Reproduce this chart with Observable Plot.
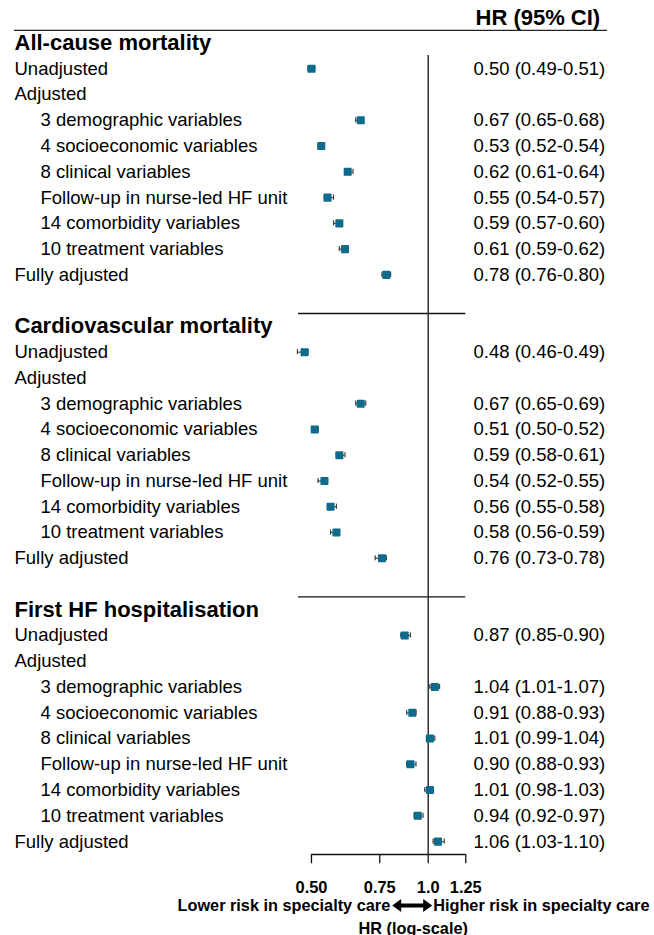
<!DOCTYPE html>
<html><head><meta charset="utf-8">
<script src="https://cdn.jsdelivr.net/npm/d3@7"></script>
<script src="https://cdn.jsdelivr.net/npm/@observablehq/plot@0.6"></script>
<style>body{margin:0;background:#fff} svg{display:block}</style>
</head><body><div id="chart"></div>
<script>
const sections = ["All-cause mortality", "Cardiovascular mortality", "First HF hospitalisation"];
const rowLabels = ["Unadjusted", "Adjusted", "3 demographic variables", "4 socioeconomic variables",
  "8 clinical variables", "Follow-up in nurse-led HF unit", "14 comorbidity variables",
  "10 treatment variables", "Fully adjusted"];
const indented = [false, false, true, true, true, true, true, true, false];

const allCauseHR = [0.50, 0.67, 0.53, 0.62, 0.55, 0.59, 0.61, 0.78];
const allCauseLo = [0.49, 0.65, 0.52, 0.61, 0.54, 0.57, 0.59, 0.76];
const allCauseHi = [0.51, 0.68, 0.54, 0.64, 0.57, 0.60, 0.62, 0.80];
const cvHR = [0.48, 0.67, 0.51, 0.59, 0.54, 0.56, 0.58, 0.76];
const cvLo = [0.46, 0.65, 0.50, 0.58, 0.52, 0.55, 0.56, 0.73];
const cvHi = [0.49, 0.69, 0.52, 0.61, 0.55, 0.58, 0.59, 0.78];
const hfHR = [0.87, 1.04, 0.91, 1.01, 0.90, 1.01, 0.94, 1.06];
const hfLo = [0.85, 1.01, 0.88, 0.99, 0.88, 0.98, 0.92, 1.03];
const hfHi = [0.90, 1.07, 0.93, 1.04, 0.93, 1.03, 0.97, 1.10];

const tickValues = [0.5, 0.75, 1.0, 1.25];
const tickLabels = ["0.50", "0.75", "1.0", "1.25"];
const headerText = "HR (95% CI)";
const lowerText = "Lower risk in specialty care";
const higherText = "Higher risk in specialty care";
const axisTitle = "HR (log-scale)";

// ---- build tables ----
const series = [
  {hr: allCauseHR, lo: allCauseLo, hi: allCauseHi},
  {hr: cvHR, lo: cvLo, hi: cvHi},
  {hr: hfHR, lo: hfLo, hi: hfHi}
];
const rowsPerSection = rowLabels.length + 2;
const titleRows = sections.map((t, s) => ({label: t, row: s * rowsPerSection}));
const labelRows = [];
const estimates = [];
sections.forEach((t, s) => {
  let k = 0;
  rowLabels.forEach((lab, j) => {
    const row = s * rowsPerSection + 1 + j;
    labelRows.push({label: lab, row, indent: indented[j]});
    if (lab !== "Adjusted") {
      estimates.push({row, hr: series[s].hr[k], lo: series[s].lo[k], hi: series[s].hi[k]});
      k++;
    }
  });
});
const separators = sections.slice(1).map((t, s) => (s + 1) * rowsPerSection - 0.5);
const lastRow = sections.length * rowsPerSection - 2;
const axisRow = lastRow + 0.5;

const fmt = d3.format(".2f");
const font = "Liberation Sans, Arial, Helvetica, sans-serif";
const ink = "#000";
const blue = "#0f6b8c";

const doubleArrow = {
  draw(ctx) {
    const w = 20, h = 6.5, t = 2, hw = 9;
    ctx.moveTo(-w, 0); ctx.lineTo(-w + hw, -h); ctx.lineTo(-w + hw, -t);
    ctx.lineTo(w - hw, -t); ctx.lineTo(w - hw, -h); ctx.lineTo(w, 0);
    ctx.lineTo(w - hw, h); ctx.lineTo(w - hw, t); ctx.lineTo(-w + hw, t);
    ctx.lineTo(-w + hw, h); ctx.closePath();
  }
};

const chart = Plot.plot({
  width: 654, height: 935, margin: 0,
  style: {fontFamily: font, background: "#fff", overflow: "visible"},
  x: {type: "log", domain: [0.07889, 3.8337], range: [0, 654], axis: null},
  y: {type: "linear", domain: [-1.6514, 34.645], range: [0, 935], axis: null},
  marks: [
    // header
    Plot.ruleY([-0.49], {x1: 0.0857, x2: 2.90, stroke: "#222", strokeWidth: 1.2}),
    Plot.text([headerText], {y: () => -0.96, text: d => d, frameAnchor: "left", textAnchor: "start", dx: 475, fontSize: 22, fontWeight: "bold", fill: ink}),
    // reference line and separators
    Plot.ruleX([1], {y1: 0.48, y2: axisRow, stroke: "#111", strokeWidth: 1.3}),
    Plot.ruleY(separators, {x1: 0.463, x2: 1.25, stroke: "#111", strokeWidth: 1.3}),
    // CIs
    Plot.ruleY(estimates, {y: "row", x1: "lo", x2: "hi", stroke: "#444", strokeWidth: 1.2}),
    Plot.ruleX(estimates, {x: "lo", y1: d => d.row - 0.1, y2: d => d.row + 0.1, stroke: "#444", strokeWidth: 1.2}),
    Plot.ruleX(estimates, {x: "hi", y1: d => d.row - 0.1, y2: d => d.row + 0.1, stroke: "#444", strokeWidth: 1.2}),
    Plot.dot(estimates, {x: "hr", y: "row", symbol: "square", r: 3.7, fill: blue, stroke: blue, strokeWidth: 1.5, strokeLinejoin: "round"}),
    // labels
    Plot.text(titleRows, {y: "row", text: "label", frameAnchor: "left", textAnchor: "start", dx: 14, fontSize: 22, fontWeight: "bold", fill: ink}),
    Plot.text(labelRows.filter(d => !d.indent), {y: "row", text: "label", frameAnchor: "left", textAnchor: "start", dx: 14, fontSize: 18.5, fill: ink}),
    Plot.text(labelRows.filter(d => d.indent), {y: "row", text: "label", frameAnchor: "left", textAnchor: "start", dx: 40, fontSize: 18.5, fill: ink}),
    Plot.text(estimates, {y: "row", text: d => `${fmt(d.hr)} (${fmt(d.lo)}-${fmt(d.hi)})`, frameAnchor: "left", textAnchor: "start", dx: 473, fontSize: 18.5, fill: ink}),
    // axis
    Plot.ruleY([axisRow], {x1: tickValues[0], x2: tickValues[tickValues.length - 1], stroke: "#111", strokeWidth: 1.3}),
    Plot.ruleX(tickValues, {x: d => d, y1: axisRow, y2: axisRow + 0.36, stroke: "#111", strokeWidth: 1.3}),
    Plot.text(tickValues, {x: d => d, y: () => axisRow + 1.28, text: (d, i) => tickLabels[i], fontSize: 16.4, fontWeight: "bold", fill: ink}),
    Plot.text([lowerText], {x: () => 1, y: () => axisRow + 1.98, text: d => d, textAnchor: "end", dx: -38, fontSize: 16.3, fontWeight: "bold", fill: ink}),
    Plot.text([higherText], {x: () => 1, y: () => axisRow + 1.98, text: d => d, textAnchor: "start", dx: 5, fontSize: 16.3, fontWeight: "bold", fill: ink}),
    Plot.dot([1], {x: d => d, y: () => axisRow + 1.98, symbol: doubleArrow, fill: ink, stroke: "none", dx: -16}),
    Plot.text([axisTitle], {x: () => 1, y: () => axisRow + 2.87, text: d => d, textAnchor: "middle", dx: -15, fontSize: 16.3, fontWeight: "bold", fill: ink})
  ]
});
document.getElementById("chart").appendChild(chart);
</script>
</body></html>
